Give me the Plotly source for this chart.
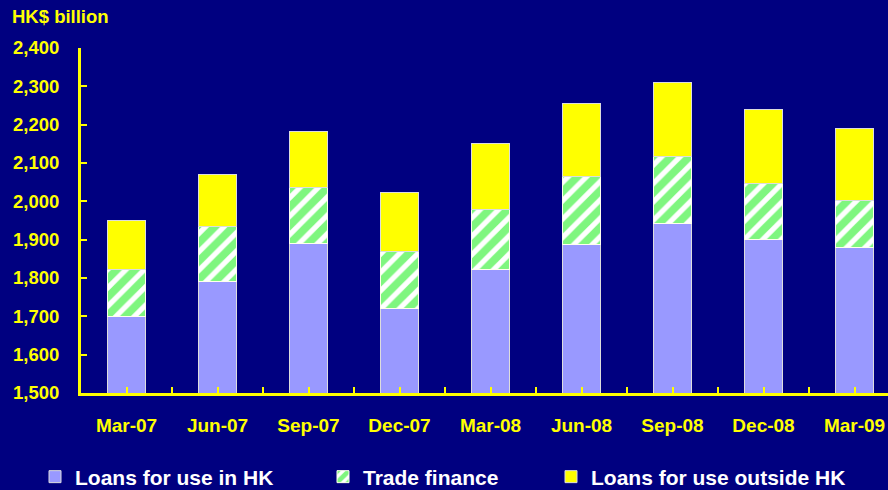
import plotly.graph_objects as go

categories = ["Mar-07", "Jun-07", "Sep-07", "Dec-07", "Mar-08", "Jun-08", "Sep-08", "Dec-08", "Mar-09"]
loans_in_hk = [1699, 1792, 1890, 1721, 1821, 1888, 1943, 1901, 1880]
trade_finance = [123, 142, 146, 148, 159, 177, 174, 145, 123]
loans_outside_hk = [127, 135, 145, 155, 171, 191, 193, 194, 188]
y_ticks = [1500, 1600, 1700, 1800, 1900, 2000, 2100, 2200, 2300, 2400]

NAVY = "#000080"
YELLOW = "#FFFF00"
FONT = "Liberation Sans, Arial, sans-serif"
W, H, L = 888, 490, 81
PW = W - L

def lx(px):
    return (px - L) / PW

base = [0] * len(categories)
fig = go.Figure()
# invisible helper trace carrying the boundary ticks on the main x axis
fig.add_trace(go.Bar(x=categories, y=base, showlegend=False,
                     hoverinfo="skip", marker=dict(color="rgba(0,0,0,0)")))
fig.add_trace(go.Bar(
    x=categories, y=loans_in_hk, name="Loans for use in HK", xaxis="x2",
    marker=dict(color="#9999FF", line=dict(color="#DDDDDD", width=1)),
    width=0.42, legend="legend",
))
fig.add_trace(go.Bar(
    x=categories, y=trade_finance, name="Trade finance", xaxis="x2",
    marker=dict(color="#FFFFFF", line=dict(color="#FFFFEE", width=1),
                pattern=dict(shape="/", fgcolor="#00EE00", bgcolor="#FFFFFF",
                             size=13, solidity=0.6, fillmode="overlay")),
    width=0.42, legend="legend2",
))
fig.add_trace(go.Bar(
    x=categories, y=loans_outside_hk, name="Loans for use outside HK", xaxis="x2",
    marker=dict(color=YELLOW, line=dict(color="#DDDDDD", width=1)),
    width=0.42, legend="legend3",
))

legend_font = dict(family=FONT, size=21, color="#FFFFFF", weight="bold")
def legend_at(px):
    return dict(orientation="h", x=lx(px), xanchor="left",
                y=(H - 477) / H, yanchor="middle", yref="container",
                font=legend_font, bgcolor="rgba(0,0,0,0)")

fig.update_layout(
    barmode="stack",
    width=W, height=H,
    paper_bgcolor=NAVY, plot_bgcolor=NAVY,
    margin=dict(l=L, r=0, t=48, b=97),
    font=dict(family=FONT, color=YELLOW, size=18),
    title=dict(text="<b>HK$ billion</b>", x=12 / W, xanchor="left", xref="container",
               y=1 - 17 / H, yanchor="middle", yref="container",
               font=dict(family=FONT, size=18.5, color=YELLOW)),
    xaxis=dict(
        type="category", range=[-0.5, 8.368],
        showline=True, linecolor=YELLOW, linewidth=3,
        ticks="inside", ticklen=6, tickwidth=2, tickcolor=YELLOW, tickson="boundaries",
        tickfont=dict(family=FONT, size=19, color=YELLOW, weight="bold"),
        ticklabelstandoff=13,
        showgrid=False, zeroline=False,
    ),
    xaxis2=dict(
        type="category", range=[-0.5, 8.368], overlaying="x",
        showline=False, showticklabels=False,
        ticks="inside", ticklen=6, tickwidth=2, tickcolor=YELLOW, tickson="labels",
        showgrid=False, zeroline=False,
    ),
    yaxis=dict(
        range=[1500, 2400], tickvals=y_ticks,
        tickformat=",d",
        showline=True, linecolor=YELLOW, linewidth=3,
        ticks="inside", ticklen=6, tickwidth=2, tickcolor=YELLOW,
        tickfont=dict(family=FONT, size=18.5, color=YELLOW, weight="bold"),
        ticklabelstandoff=15,
        showgrid=False, zeroline=False,
    ),
    legend=legend_at(35),
    legend2=legend_at(323),
    legend3=legend_at(551),
    showlegend=True,
)

fig.write_html("out.html", config={"displayModeBar": False},
               post_script="document.body.style.margin='0';document.body.style.overflow='hidden';")
